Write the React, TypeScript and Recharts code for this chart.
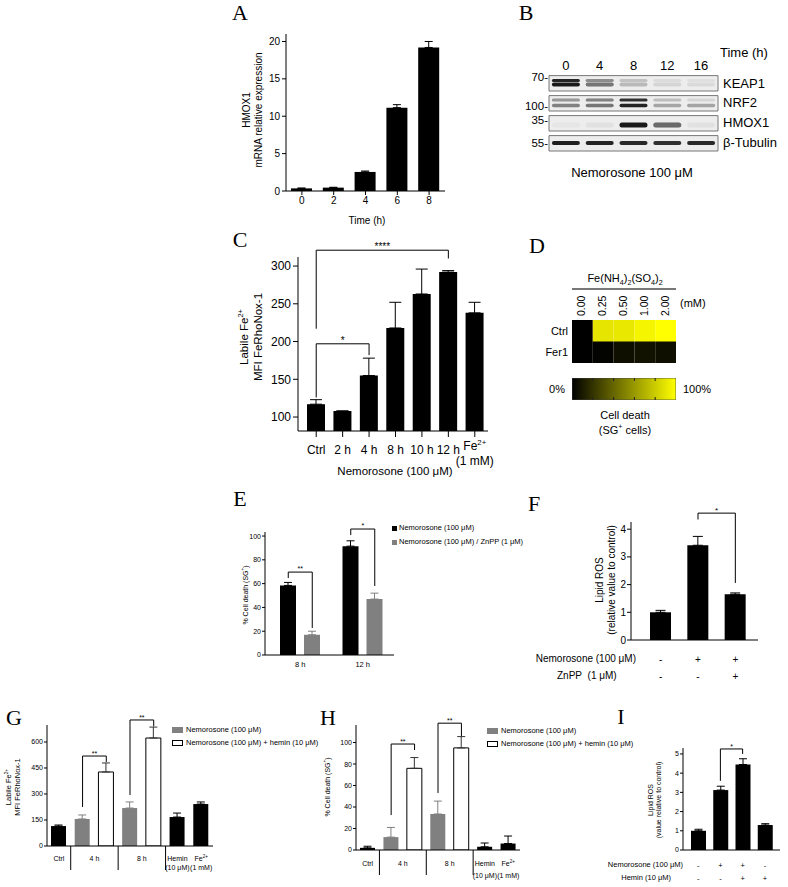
import React from 'react';
import {
  BarChart, Bar, XAxis, YAxis, ErrorBar, Cell, ReferenceLine, ReferenceArea, ScatterChart, Scatter,
} from 'recharts';

const SANS = '"Liberation Sans", Arial, sans-serif';
const SERIF = '"Liberation Serif", "Times New Roman", serif';

// A - HMOX1 mRNA
const timeA = ['0', '2', '4', '6', '8'];
const hmox1Expr = [0.35, 0.45, 2.55, 11.15, 19.2];
const hmox1Err = [0.05, 0.05, 0.12, 0.4, 0.8];

// B - western blot (band intensity 0..1 per lane)
const blotLanes = ['0', '4', '8', '12', '16'];
const keap1Upper = [0.9, 0.45, 0.18, 0.07, 0.06];
const keap1Lower = [0.95, 0.55, 0.22, 0.1, 0.08];
const nrf2Upper = [0.4, 0.5, 0.85, 0.2, 0.1];
const nrf2Lower = [0.5, 0.55, 0.9, 0.3, 0.35];
const hmox1Band = [0.03, 0.05, 0.95, 0.6, 0.05];
const tubulinBand = [0.92, 0.9, 0.88, 0.85, 0.88];
const mwLabels = ['70-', '100-', '35-', '55-'];
const mwPos = [0.15, 1.6, 2.3, 3.45];

// C - labile iron
const ironCats = ['Ctrl', '2 h', '4 h', '8 h', '10 h', '12 h', 'Fe2+|(1 mM)'];
const ironMfi = [117, 108, 155, 218, 263, 292, 238];
const ironErr = [6, 0, 23, 34, 33, 2, 14];

// D - heatmap
const fasConc = ['0.00', '0.25', '0.50', '1.00', '2.00'];
const deathCtrl = [0, 90, 91, 96, 100];
const deathFer1 = [0, 1, 6, 7, 6];

// E - cell death with ZnPP
const timeE = ['8 h', '12 h'];
const deathNemo = [58.5, 91.5];
const deathNemoErr = [2.5, 4.5];
const deathZnpp = [17, 47];
const deathZnppErr = [3, 5];

// F - lipid ROS with ZnPP
const catsF = ['Ctrl', 'Nem', 'Nem+ZnPP'];
const rosF = [1.0, 3.42, 1.65];
const rosFErr = [0.07, 0.32, 0.05];
const nemoF = ['-', '+', '+'];
const znppF = ['-', '-', '+'];

// G / H - hemin
const catsGH = ['Ctrl', '4 h', '4 h + hemin', '8 h', '8 h + hemin', 'Hemin', 'Fe2+'];
const kindGH = ['ctrl', 'nemo', 'hemin', 'nemo', 'hemin', 'ctrl', 'ctrl'];
const ironG = [115, 156, 427, 219, 623, 167, 242];
const ironGErr = [6, 23, 52, 35, 63, 23, 12];
const deathH = [2, 12, 76, 33.5, 95, 3, 6];
const deathHErr = [1.5, 9, 10, 12, 10.5, 3.5, 7];
const groupsGH = [
  { lines: ['Ctrl'], n: 1, sep: true },
  { lines: ['4 h'], n: 2, sep: true },
  { lines: ['8 h'], n: 2, sep: true },
  { lines: ['Hemin', '(10 μM)'], n: 1, sep: false },
  { lines: ['Fe2+', '(1 mM)'], n: 1, sep: false },
];

// I - lipid ROS with hemin
const catsI = ['Ctrl', 'Nem', 'Nem+Hemin', 'Hemin'];
const rosI = [1.0, 3.12, 4.45, 1.3];
const rosIErr = [0.08, 0.2, 0.3, 0.07];
const nemoI = ['-', '+', '+', '-'];
const heminI = ['-', '-', '+', '+'];

const GRAY = '#808080';
const tickS = (fs: number) => ({ fontSize: fs, fill: '#000', fontFamily: SANS });

const Txt = ({ x, y, size = 10, anchor = 'middle', family = SANS, children }: any) => {
  const tx = anchor === 'middle' ? '-50%' : anchor === 'end' ? '-100%' : '0';
  return (
    <div style={{ position: 'absolute', left: x, top: y, transform: `translate(${tx}, -50%)`, fontSize: size, fontFamily: family, whiteSpace: 'nowrap', lineHeight: 1.15, color: '#000' }}>
      {children}
    </div>
  );
};

const VTxt = ({ x, y, size = 10, lh = 1.2, children }: any) => (
  <div style={{ position: 'absolute', left: x, top: y, transform: 'translate(-50%, -50%) rotate(-90deg)', fontSize: size, fontFamily: SANS, whiteSpace: 'nowrap', textAlign: 'center', lineHeight: lh, color: '#000' }}>
    {children}
  </div>
);

const Sup = ({ children }: any) => <sup style={{ fontSize: '65%', lineHeight: 0 }}>{children}</sup>;
const Sub = ({ children }: any) => <sub style={{ fontSize: '65%', lineHeight: 0 }}>{children}</sub>;

const at = (left: number, top: number): React.CSSProperties => ({ position: 'absolute', left, top });

// svg text line, handles the "Fe2+" superscript
const svgLine = (s: string, x: number, y: number, fs: number, key?: any) => (
  <text key={key} x={x} y={y} fontSize={fs} fontFamily={SANS} textAnchor="middle" dominantBaseline="central" fill="#000">
    {s === 'Fe2+' ? (<>Fe<tspan dy={-fs * 0.35} fontSize={fs * 0.65}>2+</tspan></>) : s}
  </text>
);

type Br = { from: any; to: any; y: number; yFrom: number; yTo: number; label: string };

const bracket = (b: Br, fs: number, k: string) => [
  <ReferenceLine key={k + 'h'} ifOverflow="visible" stroke="#000" strokeWidth={1}
    segment={[{ x: b.from, y: b.y }, { x: b.to, y: b.y }]}
    label={{ value: b.label, position: 'top', offset: 0, fontSize: fs, fill: '#000' }} />,
  <ReferenceLine key={k + 'l'} ifOverflow="visible" stroke="#000" strokeWidth={1}
    segment={[{ x: b.from, y: b.y }, { x: b.from, y: b.yFrom }]} />,
  <ReferenceLine key={k + 'r'} ifOverflow="visible" stroke="#000" strokeWidth={1}
    segment={[{ x: b.to, y: b.y }, { x: b.to, y: b.yTo }]} />,
];

// ---------- A ----------
const hmoxData = timeA.map((t, i) => ({ t, v: hmox1Expr[i], e: [0, hmox1Err[i]] }));

const PanelA = () => (
  <div style={at(256, 24)}>
    <BarChart width={199} height={207} data={hmoxData} margin={{ top: 10, right: 10, bottom: 0, left: 0 }} barSize={21}>
      <XAxis dataKey="t" height={40} stroke="#000" tick={tickS(10)} tickSize={4} tickMargin={2} interval={0} />
      <YAxis domain={[0, 21]} ticks={[0, 5, 10, 15, 20]} allowDataOverflow width={30} stroke="#000" tick={tickS(10)} tickSize={4} tickMargin={2} />
      <Bar dataKey="v" fill="#000" isAnimationActive={false}>
        <ErrorBar dataKey="e" width={4} stroke="#000" strokeWidth={1} isAnimationActive={false} />
      </Bar>
    </BarChart>
  </div>
);

// ---------- B ----------
const blotRows = [
  { name: 'KEAP1', bands: [{ dy: 0.33, h: 3, a: keap1Upper }, { dy: 0.53, h: 4, a: keap1Lower }] },
  { name: 'NRF2', bands: [{ dy: 0.3, h: 3, a: nrf2Upper }, { dy: 0.58, h: 3.5, a: nrf2Lower }] },
  { name: 'HMOX1', bands: [{ dy: 0.55, h: 5, a: hmox1Band }] },
  { name: 'β-Tubulin', bands: [{ dy: 0.45, h: 4, a: tubulinBand }] },
];
const bandPoints = blotRows.flatMap((r, ri) =>
  r.bands.flatMap((b) => blotLanes.map((_, li) => ({ lane: li, pos: ri + b.dy, a: b.a[li], h: b.h }))),
);

const renderBand = (p: any) => {
  const { cx, cy, payload } = p;
  return (
    <rect x={cx - 14} y={cy - payload.h / 2} width={28} height={payload.h} rx={payload.h / 2}
      fill="#111" fillOpacity={payload.a} filter="url(#bandBlur)" />
  );
};

const PanelB = () => (
  <div style={at(519, 56)}>
    <ScatterChart width={269} height={103} margin={{ top: 0, right: 70, bottom: 5, left: 0 }}>
      <defs>
        <filter id="bandBlur" x="-20%" y="-100%" width="140%" height="300%">
          <feGaussianBlur stdDeviation="0.7" />
        </filter>
      </defs>
      <XAxis type="number" dataKey="lane" domain={[-0.5, 4.5]} ticks={[0, 1, 2, 3, 4]} orientation="top" height={18}
        axisLine={false} tickLine={false} tickSize={0} tickMargin={4} interval={0}
        tickFormatter={(v: number) => blotLanes[v]} tick={tickS(13)} />
      <YAxis yAxisId="mw" type="number" dataKey="pos" domain={[0, 4]} reversed ticks={mwPos} interval={0}
        tickFormatter={(_: number, i: number) => mwLabels[i]} width={30} axisLine={false} tickLine={false}
        tickSize={0} tickMargin={1} tick={tickS(11.5)} />
      {blotRows.map((r, i) => (
        <ReferenceArea key={r.name} yAxisId="mw" x1={-0.5} x2={4.5} y1={i + 0.08} y2={i + 0.85}
          fill="#ededed" fillOpacity={1} stroke="#777" strokeWidth={1} ifOverflow="visible" />
      ))}
      <Scatter yAxisId="mw" data={bandPoints} shape={renderBand} isAnimationActive={false} />
    </ScatterChart>
  </div>
);

// ---------- C ----------
const ironData = ironCats.map((c, i) => ({ c, v: ironMfi[i], e: [0, ironErr[i]] }));
const bracketsC: Br[] = [
  { from: 'Ctrl', to: '12 h', y: 321, yFrom: 217, yTo: 310, label: '****' },
  { from: 'Ctrl', to: '4 h', y: 197, yFrom: 126, yTo: 182, label: '*' },
];
const IronTick = (p: any) => {
  const { x, y, payload } = p;
  const lines = String(payload.value).split('|');
  if (lines.length > 1) return <g>{lines.map((s, k) => svgLine(s, x, y + 9 + k * 15, 12, k))}</g>;
  return svgLine(lines[0], x, y + 13, 12);
};

const PanelC = () => (
  <div style={at(263, 227)}>
    <BarChart width={235} height={254} data={ironData} margin={{ top: 30, right: 10, bottom: 0, left: 0 }} barSize={18}>
      <XAxis dataKey="c" height={50} stroke="#000" tick={IronTick} tickSize={6} tickMargin={0} interval={0}
        padding={{ left: 5, right: 0 }} />
      <YAxis domain={[81.5, 312]} ticks={[100, 150, 200, 250, 300]} allowDataOverflow width={35} stroke="#000"
        tick={tickS(12)} tickSize={5} tickMargin={2} />
      <Bar dataKey="v" fill="#000" isAnimationActive={false}>
        <ErrorBar dataKey="e" width={6} stroke="#000" strokeWidth={1} isAnimationActive={false} />
      </Bar>
      {bracketsC.flatMap((b, i) => bracket(b, 10, 'c' + i))}
    </BarChart>
  </div>
);

// ---------- D ----------
const heatRows = [
  { row: 'Ctrl', vals: deathCtrl },
  { row: 'Fer1', vals: deathFer1 },
];
const heatData = heatRows.map((r) => {
  const d: any = { row: r.row };
  fasConc.forEach((_, j) => { d['c' + j] = 1; });
  return d;
});
const deathColor = (v: number) => {
  const c = Math.round(2.55 * v);
  return `rgb(${c}, ${c}, 0)`;
};
const ConcTick = (p: any) => {
  const { x, y, index } = p;
  return (
    <text x={x - 1} y={y} transform={`rotate(-90 ${x - 1} ${y})`} textAnchor="start" dominantBaseline="central"
      fontSize={10.5} fontFamily={SANS} fill="#000">
      {fasConc[index]}
    </text>
  );
};

const PanelD = () => (
  <>
    <div style={at(537, 285)}>
      <BarChart width={149} height={78} data={heatData} layout="vertical" margin={{ top: 0, right: 10, bottom: 0, left: 0 }}
        barCategoryGap={0}>
        <XAxis type="number" domain={[0, 5]} orientation="top" ticks={[0.5, 1.5, 2.5, 3.5, 4.5]} interval={0}
          height={35} axisLine={false} tickLine={false} tickSize={0} tickMargin={4} tick={ConcTick} />
        <YAxis type="category" dataKey="row" width={35} axisLine={false} tickLine={false} tickSize={0} tickMargin={4}
          tick={tickS(11)} />
        {fasConc.map((c, j) => (
          <Bar key={c} dataKey={'c' + j} stackId="h" isAnimationActive={false}>
            {heatRows.map((r, i) => <Cell key={i} fill={deathColor(r.vals[j])} />)}
          </Bar>
        ))}
      </BarChart>
    </div>
    <div style={at(572, 378)}>
      <BarChart width={104} height={22} data={[{ k: 'scale', v: 100 }]} layout="vertical" margin={{ top: 0, right: 0, bottom: 0, left: 0 }}
        barCategoryGap={0}>
        <defs>
          <linearGradient id="deathGrad" x1="0" x2="1" y1="0" y2="0">
            <stop offset="0" stopColor="#000" />
            <stop offset="1" stopColor="#ffff00" />
          </linearGradient>
        </defs>
        <XAxis type="number" domain={[0, 100]} hide />
        <YAxis type="category" dataKey="k" hide />
        <Bar dataKey="v" fill="url(#deathGrad)" stroke="#444" strokeWidth={0.8} isAnimationActive={false} />
        {[20, 40, 60, 80].map((t) => (
          <ReferenceLine key={t} x={t} stroke="#222" strokeWidth={1} strokeDasharray="3 16" />
        ))}
      </BarChart>
    </div>
  </>
);

// ---------- E ----------
const eData = timeE.map((t, i) => ({
  t,
  nemo: deathNemo[i], nemoE: [0, deathNemoErr[i]],
  znpp: deathZnpp[i], znppE: [0, deathZnppErr[i]],
}));
const E_YW = 25;
const E_MT = 40;
const E_PW = 129;
const E_PH = 123;
const E_MAX = 103.4;
const E_PAD = 4;
const E_BAR = 16;
const E_GAP = 8;
const E_BAND = (E_PW - E_PAD) / timeE.length;
// same linear mapping as the chart's axes, used for the significance brackets
const eY = (v: number) => E_MT + E_PH * (1 - v / E_MAX);
const eX = (g: number, side: number) => E_YW + E_PAD + E_BAND * (g + 0.5) + (side * (E_BAR + E_GAP)) / 2;
const bracketsE = [
  { g: 0, y: 69.7, yFrom: 64.7, yTo: 22.7, label: '**' },
  { g: 1, y: 105.9, yFrom: 100.8, yTo: 58, label: '*' },
];

const PanelE = () => (
  <div style={at(240, 492)}>
    <BarChart width={E_YW + E_PW + 10} height={E_MT + E_PH + 30} data={eData}
      margin={{ top: E_MT, right: 10, bottom: 0, left: 0 }} barSize={E_BAR} barGap={E_GAP}>
      <XAxis dataKey="t" height={30} stroke="#000" tick={tickS(7.5)} tickLine={false} tickSize={0} tickMargin={7}
        interval={0} padding={{ left: E_PAD, right: 0 }} />
      <YAxis domain={[0, E_MAX]} ticks={[0, 20, 40, 60, 80, 100]} allowDataOverflow width={E_YW} stroke="#000"
        tick={tickS(7)} tickSize={3} tickMargin={1} />
      <Bar dataKey="nemo" fill="#000" isAnimationActive={false}>
        <ErrorBar dataKey="nemoE" width={4} stroke="#000" strokeWidth={1} isAnimationActive={false} />
      </Bar>
      <Bar dataKey="znpp" fill={GRAY} isAnimationActive={false}>
        <ErrorBar dataKey="znppE" width={4} stroke={GRAY} strokeWidth={1} isAnimationActive={false} />
      </Bar>
    </BarChart>
    <svg width={E_YW + E_PW + 10} height={E_MT + E_PH + 30} style={{ position: 'absolute', left: 0, top: 0, pointerEvents: 'none' }}>
      {bracketsE.map((b, i) => {
        const x1 = eX(b.g, -1);
        const x2 = eX(b.g, 1);
        return (
          <g key={i} stroke="#000" strokeWidth={1} fill="none">
            <polyline points={`${x1},${eY(b.yFrom)} ${x1},${eY(b.y)} ${x2},${eY(b.y)} ${x2},${eY(b.yTo)}`} />
            <text x={(x1 + x2) / 2} y={eY(b.y) - 1} fontSize={7} fontFamily={SANS} textAnchor="middle" stroke="none" fill="#000">
              {b.label}
            </text>
          </g>
        );
      })}
    </svg>
  </div>
);

// ---------- F ----------
const fData = catsF.map((c, i) => ({ c, v: rosF[i], e: [0, rosFErr[i]] }));
const bracketsF: Br[] = [{ from: 'Nem', to: 'Nem+ZnPP', y: 4.58, yFrom: 4.35, yTo: 2.06, label: '*' }];
const signTick = (rowA: string[], rowB: string[], d1: number, d2: number, fs: number) => (p: any) => {
  const { x, y, index } = p;
  return (
    <g>
      {svgLine(rowA[index], x, y + d1, fs, 'a')}
      {svgLine(rowB[index], x, y + d2, fs, 'b')}
    </g>
  );
};

const PanelF = () => (
  <div style={at(609, 492)}>
    <BarChart width={159} height={193} data={fData} margin={{ top: 30, right: 10, bottom: 0, left: 0 }} barSize={21}>
      <XAxis dataKey="c" height={45} stroke="#000" tickLine={false} tickSize={0} tickMargin={0} interval={0}
        padding={{ left: 11, right: 4 }} tick={signTick(nemoF, znppF, 19, 36, 10)} />
      <YAxis domain={[0, 4.26]} ticks={[0, 1, 2, 3, 4]} allowDataOverflow width={22} stroke="#000"
        tick={tickS(10)} tickSize={4} tickMargin={1} />
      <Bar dataKey="v" fill="#000" isAnimationActive={false}>
        <ErrorBar dataKey="e" width={5} stroke="#000" strokeWidth={1} isAnimationActive={false} />
      </Bar>
      {bracketsF.flatMap((b, i) => bracket(b, 8, 'f' + i))}
    </BarChart>
  </div>
);

// ---------- G / H ----------
const ghTable = (vals: number[], errs: number[]) =>
  catsGH.map((c, i) => {
    const row: any = { cat: c };
    ['ctrl', 'nemo', 'hemin'].forEach((k) => {
      row[k] = kindGH[i] === k ? vals[i] : null;
      row[k + 'Err'] = kindGH[i] === k ? [0, errs[i]] : null;
    });
    return row;
  });

const groupStarts = groupsGH.map((_, gi) => groupsGH.slice(0, gi).reduce((s, g) => s + g.n, 0));

const makeGroupTick = (bw: number, d1: number, dl: number, sepLen: number) => (p: any) => {
  const { x, y, index } = p;
  const gi = groupStarts.indexOf(index);
  if (gi < 0) return <g />;
  const g = groupsGH[gi];
  const cx = x + ((g.n - 1) * bw) / 2;
  const edge = x + (g.n - 1) * bw + bw / 2;
  return (
    <g>
      {g.lines.map((s, k) => svgLine(s, cx, y + d1 + k * dl, 7, k))}
      {g.sep && <line x1={edge} x2={edge} y1={y} y2={y + sepLen} stroke="#000" strokeWidth={1} />}
    </g>
  );
};

const GHChart = ({ left, top, pw, ph, domain, ticks, vals, errs, brackets, d1, dl, sepLen }: any) => {
  const data = ghTable(vals, errs);
  return (
    <div style={at(left, top)}>
      <BarChart width={24 + pw + 5} height={25 + ph + 35} data={data} margin={{ top: 25, right: 5, bottom: 0, left: 0 }}
        barSize={15}>
        <XAxis dataKey="cat" height={35} stroke="#000" tickLine={false} tickSize={0} tickMargin={0} interval={0}
          tick={makeGroupTick(pw / catsGH.length, d1, dl, sepLen)} />
        <YAxis domain={domain} ticks={ticks} allowDataOverflow width={24} stroke="#000" tick={tickS(7)}
          tickSize={3} tickMargin={1} />
        <Bar dataKey="ctrl" stackId="s" fill="#000" isAnimationActive={false}>
          <ErrorBar dataKey="ctrlErr" width={4} stroke="#000" strokeWidth={1} isAnimationActive={false} />
        </Bar>
        <Bar dataKey="nemo" stackId="s" fill={GRAY} isAnimationActive={false}>
          <ErrorBar dataKey="nemoErr" width={4} stroke={GRAY} strokeWidth={1} isAnimationActive={false} />
        </Bar>
        <Bar dataKey="hemin" stackId="s" fill="#fff" stroke="#000" strokeWidth={1} isAnimationActive={false}>
          <ErrorBar dataKey="heminErr" width={4} stroke="#333" strokeWidth={1} isAnimationActive={false} />
        </Bar>
        {brackets.flatMap((b: Br, i: number) => bracket(b, 7, 'gh' + i))}
      </BarChart>
    </div>
  );
};

const bracketsG: Br[] = [
  { from: '4 h', to: '4 h + hemin', y: 519, yFrom: 225, yTo: 485, label: '**' },
  { from: '8 h', to: '8 h + hemin', y: 727, yFrom: 294, yTo: 690, label: '**' },
];
const bracketsH: Br[] = [
  { from: '4 h', to: '4 h + hemin', y: 98.6, yFrom: 32.5, yTo: 93, label: '**' },
  { from: '8 h', to: '8 h + hemin', y: 118, yFrom: 53, yTo: 106, label: '**' },
];

// ---------- I ----------
const iData = catsI.map((c, i) => ({ c, v: rosI[i], e: [0, rosIErr[i]] }));
const bracketsI: Br[] = [{ from: 'Nem', to: 'Nem+Hemin', y: 5.26, yFrom: 3.6, yTo: 5.0, label: '*' }];

const PanelI = () => (
  <div style={at(663, 733)}>
    <BarChart width={122} height={152} data={iData} margin={{ top: 15, right: 5, bottom: 0, left: 0 }} barSize={15}>
      <XAxis dataKey="c" height={35} stroke="#000" tickLine={false} tickSize={0} tickMargin={0} interval={0}
        padding={{ left: 4, right: 4 }} tick={signTick(nemoI, heminI, 15, 28, 7.5)} />
      <YAxis domain={[0, 5.31]} ticks={[0, 1, 2, 3, 4, 5]} allowDataOverflow width={20} stroke="#000"
        tick={tickS(7)} tickSize={3} tickMargin={1} />
      <Bar dataKey="v" fill="#000" isAnimationActive={false}>
        <ErrorBar dataKey="e" width={4} stroke="#000" strokeWidth={1} isAnimationActive={false} />
      </Bar>
      {bracketsI.flatMap((b, i) => bracket(b, 7, 'i' + i))}
    </BarChart>
  </div>
);

const Letter = ({ x, y, children }: any) => <Txt x={x} y={y} size={22} family={SERIF}>{children}</Txt>;

const LegendSwatch = ({ x, y, w, h, fill, stroke }: any) => (
  <div style={{ position: 'absolute', left: x, top: y, width: w, height: h, background: fill, border: stroke ? `1px solid ${stroke}` : 'none', boxSizing: 'border-box' }} />
);

export default function App() {
  return (
    <div style={{ position: 'absolute', left: 0, top: 0, width: 788, height: 887, background: '#fff', overflow: 'hidden', fontFamily: SANS }}>
      <Letter x={240} y={13}>A</Letter>
      <Letter x={526} y={13}>B</Letter>
      <Letter x={240} y={240}>C</Letter>
      <Letter x={537} y={246}>D</Letter>
      <Letter x={240} y={499}>E</Letter>
      <Letter x={534} y={504}>F</Letter>
      <Letter x={14} y={718}>G</Letter>
      <Letter x={328} y={718}>H</Letter>
      <Letter x={621} y={717}>I</Letter>

      {/* A */}
      <PanelA />
      <VTxt x={253} y={110} size={10}>HMOX1<br />mRNA relative expression</VTxt>
      <Txt x={367} y={221} size={10}>Time (h)</Txt>

      {/* B */}
      <PanelB />
      <Txt x={720} y={53} size={13} anchor="start">Time (h)</Txt>
      {blotRows.map((r, i) => (
        <Txt key={r.name} x={723} y={[84, 103, 123, 143][i]} size={13} anchor="start">{r.name}</Txt>
      ))}
      <Txt x={632} y={173} size={13}>Nemorosone 100 μM</Txt>

      {/* C */}
      <PanelC />
      <VTxt x={252} y={337} size={11.5}>Labile Fe<Sup>2+</Sup><br />MFI FeRhoNox-1</VTxt>
      <Txt x={395} y={472} size={11.5}>Nemorosone (100 μM)</Txt>

      {/* D */}
      <Txt x={625} y={278} size={11}>Fe(NH<Sub>4</Sub>)<Sub>2</Sub>(SO<Sub>4</Sub>)<Sub>2</Sub></Txt>
      <div style={{ position: 'absolute', left: 572, top: 288, width: 104, height: 2, background: '#777' }} />
      <Txt x={680} y={303} size={11} anchor="start">(mM)</Txt>
      <PanelD />
      <Txt x={557} y={389} size={11}>0%</Txt>
      <Txt x={683} y={389} size={11} anchor="start">100%</Txt>
      <Txt x={625} y={415} size={11}>Cell death</Txt>
      <Txt x={625} y={430} size={11}>(SG<Sup>+</Sup> cells)</Txt>

      {/* E */}
      <PanelE />
      <VTxt x={246} y={595} size={7}>% Cell death (SG<Sup>+</Sup>)</VTxt>
      <LegendSwatch x={392} y={526} w={5} h={5} fill="#000" />
      <Txt x={399} y={528} size={7.5} anchor="start">Nemorosone (100 μM)</Txt>
      <LegendSwatch x={392} y={540} w={5} h={5} fill={GRAY} />
      <Txt x={399} y={542} size={7.5} anchor="start">Nemorosone (100 μM) / ZnPP (1 μM)</Txt>

      {/* F */}
      <PanelF />
      <VTxt x={606} y={580} size={10}>Lipid ROS<br />(relative value to control)</VTxt>
      <Txt x={636} y={659} size={10} anchor="end">Nemorosone (100 μM)</Txt>
      <Txt x={557} y={676} size={10} anchor="start">ZnPP{'\u00a0\u00a0'}(1 μM)</Txt>

      {/* G */}
      <GHChart left={23} top={700} pw={166} ph={121} domain={[0, 698]} ticks={[0, 150, 300, 450, 600]}
        vals={ironG} errs={ironGErr} brackets={bracketsG} d1={12} dl={9} sepLen={24} />
      <VTxt x={12.5} y={787} size={7.5}>Labile Fe<Sup>2+</Sup><br />MFI FeRhoNox-1</VTxt>
      <LegendSwatch x={172} y={727} w={11} h={6} fill={GRAY} />
      <Txt x={186} y={730} size={7.5} anchor="start">Nemorosone (100 μM)</Txt>
      <LegendSwatch x={172} y={740} w={11} h={6} fill="#fff" stroke="#000" />
      <Txt x={186} y={743} size={7.5} anchor="start">Nemorosone (100 μM) + hemin (10 μM)</Txt>

      {/* H */}
      <GHChart left={332} top={700} pw={164} ph={125} domain={[0, 116.3]} ticks={[0, 20, 40, 60, 80, 100]}
        vals={deathH} errs={deathHErr} brackets={bracketsH} d1={13} dl={12} sepLen={25} />
      <VTxt x={328} y={787} size={7}>% Cell death (SG<Sup>+</Sup>)</VTxt>
      <LegendSwatch x={487} y={728} w={11} h={6} fill={GRAY} />
      <Txt x={501} y={731} size={7.5} anchor="start">Nemorosone (100 μM)</Txt>
      <LegendSwatch x={487} y={741} w={11} h={6} fill="#fff" stroke="#000" />
      <Txt x={501} y={744} size={7.5} anchor="start">Nemorosone (100 μM) + hemin (10 μM)</Txt>

      {/* I */}
      <PanelI />
      <VTxt x={655} y={800} size={7}>Lipid ROS<br />(value relative to control)</VTxt>
      <Txt x={683} y={865} size={7.5} anchor="end">Nemorosone (100 μM)</Txt>
      <Txt x={671} y={878} size={7.5} anchor="end">Hemin (10 μM)</Txt>
    </div>
  );
}
